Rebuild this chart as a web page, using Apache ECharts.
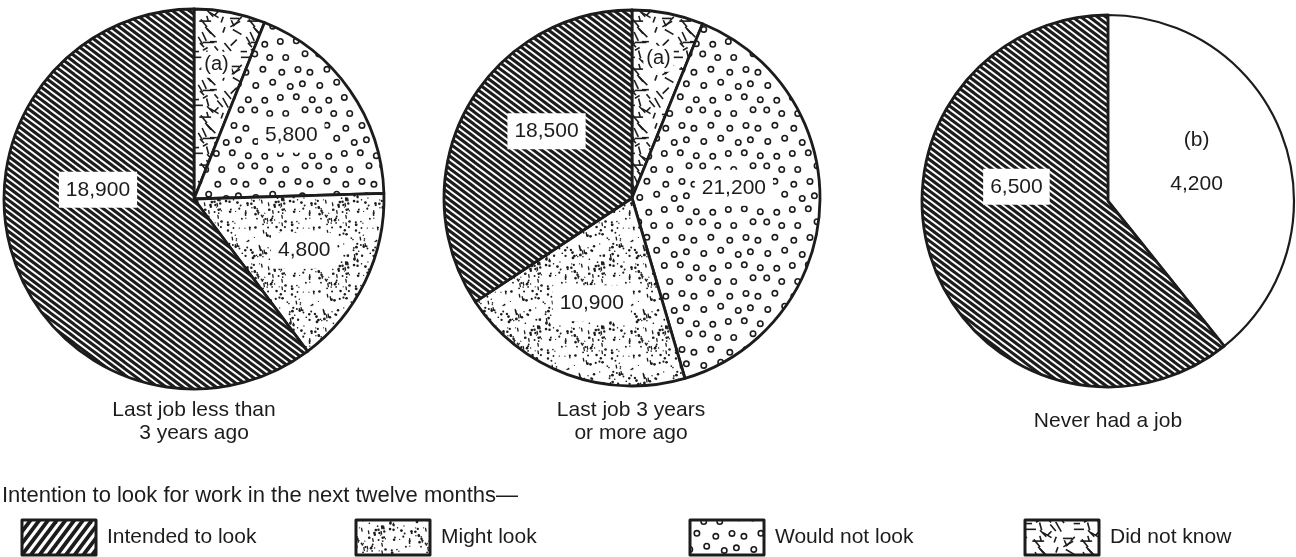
<!DOCTYPE html>
<html>
<head>
<meta charset="utf-8">
<script src="https://cdn.jsdelivr.net/npm/echarts@6/dist/echarts.min.js"></script>
<style>
html,body{margin:0;padding:0;background:#fff;}
#chart{width:1296px;height:557px;}
</style>
</head>
<body>
<div id="chart"></div>
<script>
// ---------------- DATA ----------------
const categories = ['Intended to look', 'Might look', 'Would not look', 'Did not know'];
const legendTitle = 'Intention to look for work in the next twelve months\u2014';
const pieCaptions = ['Last job less than\n3 years ago', 'Last job 3 years\nor more ago', 'Never had a job'];

// slices listed clockwise from 12 o'clock
const pie1Names  = ['Did not know', 'Would not look', 'Might look', 'Intended to look'];
const pie1Values = [1900, 5800, 4800, 18900];      // (a) slice value
const pie1Notes  = ['(a)', '', '', ''];

const pie2Names  = ['Did not know', 'Would not look', 'Might look', 'Intended to look'];
const pie2Values = [3300, 21200, 10900, 18500];    // (a) slice value
const pie2Notes  = ['(a)', '', '', ''];

const pie3Names  = ['Not applicable', 'Intended to look'];
const pie3Values = [4200, 6500];
const pie3Notes  = ['(b)', ''];

// ---------------- STYLE / LAYOUT ----------------
const FONT = '"Liberation Sans", Arial, Helvetica, sans-serif';
const INK = '#1c1c1c';
const pieCenters = [[194, 199], [632, 198], [1108, 201]];
const pieRadii = [190, 188, 186];
const labelOffsets = [
  [[4, -38], [17, -8], [22, 9], [-3, -40]],
  [[8, -44], [5, -15], [-7, 14], [0, -21]],
  [[-2, -7], [-1, -46]]
];
const legendLefts = [20.5, 354.5, 688.5, 1023.5];

function makeCanvas(w, h) {
  const c = document.createElement('canvas');
  c.width = w; c.height = h;
  const g = c.getContext('2d');
  g.fillStyle = '#fff';
  g.fillRect(0, 0, w, h);
  return [c, g];
}
// lines a*x + b*y = k*d (seamless when a*W and b*H are multiples of d)
function stripePattern(a, b, d, W, H, lw) {
  const [c, g] = makeCanvas(W, H);
  g.strokeStyle = INK; g.lineWidth = lw; g.lineCap = 'butt';
  for (let k = -40; k <= 40; k++) {
    const cc = k * d;
    const x0 = -W, x1 = 2 * W;
    g.beginPath();
    g.moveTo(x0, (cc - a * x0) / b);
    g.lineTo(x1, (cc - a * x1) / b);
    g.stroke();
  }
  return {image: c, repeat: 'repeat'};
}
// deterministic texture generator (styling only)
function lcg(seed) { let s = seed >>> 0; return () => { s = (s * 1664525 + 1013904223) >>> 0; return s / 4294967296; }; }
function wrapDraw(W, H, fn) { for (let dx = -W; dx <= W; dx += W) for (let dy = -H; dy <= H; dy += H) fn(dx, dy); }

function stipplePattern() {
  const W = 64, H = 64; const [c, g] = makeCanvas(W, H); const r = lcg(7);
  g.fillStyle = INK; g.strokeStyle = INK; g.lineWidth = 1.3; g.lineCap = 'round';
  for (let i = 0; i < 150; i++) {
    const x = r() * W, y = r() * H, rad = 0.6 + r() * 0.8, dash = r() < 0.15;
    wrapDraw(W, H, (dx, dy) => {
      if (dash) { g.beginPath(); g.moveTo(x + dx, y + dy - 1.4); g.lineTo(x + dx + 0.5, y + dy + 1.4); g.stroke(); }
      else { g.beginPath(); g.arc(x + dx, y + dy, rad, 0, Math.PI * 2); g.fill(); }
    });
  }
  return {image: c, repeat: 'repeat'};
}
function circlePattern() {
  const W = 64, H = 56; const [c, g] = makeCanvas(W, H); const r = lcg(31);
  g.strokeStyle = INK; g.lineWidth = 1.6;
  for (let row = 0; row < 4; row++) for (let col = 0; col < 4; col++) {
    const x = col * 16 + (row % 2 ? 8 : 0) + (r() - 0.5) * 5;
    const y = row * 14 + (r() - 0.5) * 5;
    wrapDraw(W, H, (dx, dy) => { g.beginPath(); g.arc(x + dx, y + dy, 2.7, 0, Math.PI * 2); g.stroke(); });
  }
  return {image: c, repeat: 'repeat'};
}
function dashPattern() {
  const W = 48, H = 48; const [c, g] = makeCanvas(W, H); const r = lcg(101);
  const angles = [45, -45, 60, -60, 0, 75, 30, -30, 50, -70, 0, 65];
  g.strokeStyle = INK; g.lineWidth = 1.6;
  for (let i = 0; i < 30; i++) {
    const x = r() * W, y = r() * H, len = 5 + r() * 7;
    const ang = angles[Math.floor(r() * angles.length)] * Math.PI / 180;
    const ux = Math.cos(ang) * len / 2, uy = Math.sin(ang) * len / 2;
    wrapDraw(W, H, (dx, dy) => { g.beginPath(); g.moveTo(x + dx - ux, y + dy - uy); g.lineTo(x + dx + ux, y + dy + uy); g.stroke(); });
  }
  return {image: c, repeat: 'repeat'};
}

const fills = {
  'Intended to look': stripePattern(3, -4, 25, 25, 25, 3.0),
  'Might look': stipplePattern(),
  'Would not look': circlePattern(),
  'Did not know': dashPattern(),
  'Not applicable': '#ffffff'
};
const legendFills = {
  'Intended to look': stripePattern(4, 3, 35, 35, 35, 3.8),
  'Might look': fills['Might look'],
  'Would not look': fills['Would not look'],
  'Did not know': fills['Did not know']
};

const fmt = v => v.toLocaleString('en-US');

function buildPie(idx, names, values, notes) {
  return {
    type: 'pie',
    center: pieCenters[idx],
    radius: [0, pieRadii[idx]],
    startAngle: 90,
    clockwise: true,
    silent: true,
    animation: false,
    avoidLabelOverlap: false,
    labelLine: {show: false},
    emphasis: {disabled: true},
    itemStyle: {borderColor: INK, borderWidth: 2.8},
    data: names.map((n, i) => {
      const note = notes[i];
      let text;
      if (note === '(a)') text = note;
      else if (note) text = note + '\n\n' + fmt(values[i]);
      else text = fmt(values[i]);
      const boxed = n !== 'Not applicable';
      return {
        name: n,
        value: values[i],
        itemStyle: {color: fills[n], borderWidth: n === 'Not applicable' ? 2.2 : 2.8},
        label: {
          show: true,
          position: 'inside',
          formatter: text,
          offset: labelOffsets[idx][i],
          fontFamily: FONT,
          fontSize: note === '(a)' ? 20 : 21,
          lineHeight: 22,
          color: INK,
          backgroundColor: boxed ? '#fff' : 'transparent',
          padding: note === '(a)' ? [2, 3] : [7, 7]
        }
      };
    })
  };
}

const chart = echarts.init(document.getElementById('chart'), null, {renderer: 'canvas'});
chart.setOption({
  backgroundColor: '#fff',
  animation: false,
  legend: categories.map((name, i) => ({
    data: [{name: name, itemStyle: {color: legendFills[name]}}],
    left: legendLefts[i],
    top: 518.5,
    padding: 0,
    icon: 'rect',
    itemWidth: 74,
    itemHeight: 35,
    selectedMode: false,
    itemStyle: {borderColor: INK, borderWidth: 3},
    textStyle: {fontFamily: FONT, fontSize: 21, color: INK, padding: [0, 0, 0, 6]}
  })),
  series: [
    buildPie(0, pie1Names, pie1Values, pie1Notes),
    buildPie(1, pie2Names, pie2Values, pie2Notes),
    buildPie(2, pie3Names, pie3Values, pie3Notes)
  ],
  graphic: [
    {type: 'text', x: 194, y: 422, silent: true,
     style: {text: pieCaptions[0], font: '21px ' + FONT, fill: INK, align: 'center', verticalAlign: 'middle', lineHeight: 23}},
    {type: 'text', x: 631, y: 422, silent: true,
     style: {text: pieCaptions[1], font: '21px ' + FONT, fill: INK, align: 'center', verticalAlign: 'middle', lineHeight: 23}},
    {type: 'text', x: 1108, y: 421, silent: true,
     style: {text: pieCaptions[2], font: '21px ' + FONT, fill: INK, align: 'center', verticalAlign: 'middle', lineHeight: 23}},
    {type: 'text', x: 2, y: 496, silent: true,
     style: {text: legendTitle, font: '22px ' + FONT, fill: INK, align: 'left', verticalAlign: 'middle'}}
  ]
});
</script>
</body>
</html>
